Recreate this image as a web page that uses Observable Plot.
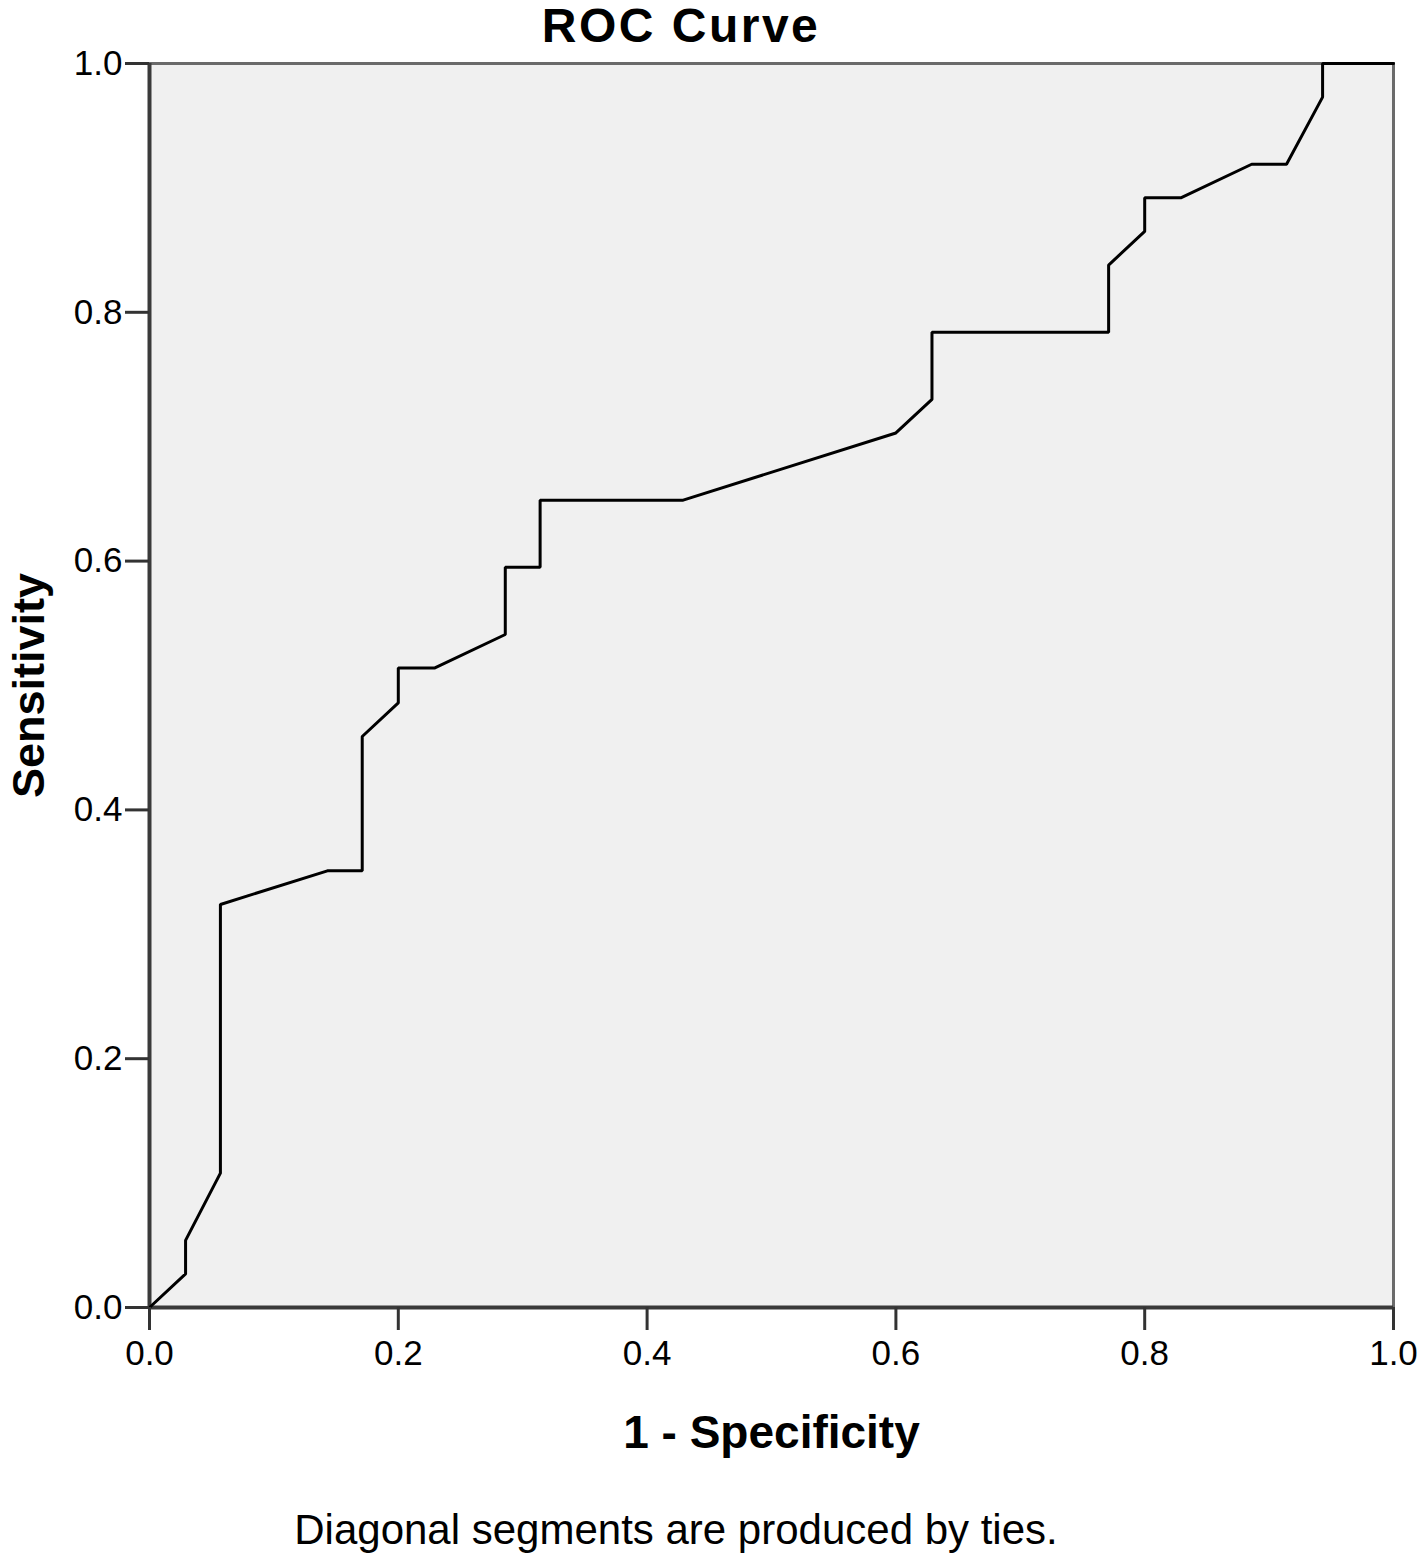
<!DOCTYPE html>
<html><head><meta charset="utf-8">
<script src="https://cdn.jsdelivr.net/npm/d3@7"></script>
<script src="https://cdn.jsdelivr.net/npm/@observablehq/plot@0.6"></script>
<style>
body{margin:0;background:#fff;}
#wrap{position:relative;width:1418px;height:1558px;font-family:"Liberation Sans",Arial,sans-serif;color:#000;}
#title{position:absolute;left:0;width:1362px;top:0px;text-align:center;font-weight:bold;font-size:48px;line-height:1.1;letter-spacing:2.5px;}
#caption{position:absolute;left:0;width:1352px;top:1509px;text-align:center;font-size:42px;line-height:1;}
#chart{position:absolute;left:0;top:0;}
</style></head>
<body>
<div id="wrap">
<div id="chart"></div>
<div id="title">ROC Curve</div>
<div id="caption">Diagonal segments are produced by ties.</div>
</div>
<script>
const titleText = "ROC Curve";
const xLabel = "1 - Specificity";
const yLabel = "Sensitivity";
const ticks = [0, 0.2, 0.4, 0.6, 0.8, 1.0];
// ROC curve points
const fpr = [0, 0.029, 0.029, 0.057, 0.057, 0.143, 0.171, 0.171, 0.200, 0.200, 0.229, 0.286, 0.286, 0.314, 0.314, 0.429, 0.600, 0.629, 0.629, 0.771, 0.771, 0.800, 0.800, 0.829, 0.886, 0.914, 0.943, 0.943, 1.000];
const tpr = [0, 0.027, 0.054, 0.108, 0.324, 0.351, 0.351, 0.459, 0.486, 0.514, 0.514, 0.541, 0.595, 0.595, 0.649, 0.649, 0.703, 0.730, 0.784, 0.784, 0.838, 0.865, 0.892, 0.892, 0.919, 0.919, 0.973, 1.000, 1.000];
const roc = fpr.map((x, i) => ({x, y: tpr[i]}));

const chart = Plot.plot({
  width: 1418,
  height: 1558,
  marginTop: 63,
  marginLeft: 149,
  marginRight: 25,
  marginBottom: 251,
  style: {fontFamily: '"Liberation Sans", Arial, sans-serif', background: "transparent", color: "#000"},
  x: {domain: [0, 1], ticks, tickFormat: d3.format(".1f"), label: null},
  y: {domain: [0, 1], ticks, tickFormat: d3.format(".1f"), label: null},
  marks: [
    Plot.frame({fill: "#f0f0f0", stroke: null}),
    Plot.frame({stroke: "#6a6a6a", strokeWidth: 3}),
    Plot.ruleX([0], {stroke: "#3a3a3a", strokeWidth: 4}),
    Plot.ruleY([0], {stroke: "#3a3a3a", strokeWidth: 4}),
    Plot.line(roc, {x: "x", y: "y", stroke: "#000", strokeWidth: 3, strokeLinejoin: "miter"}),
    Plot.axisX({ticks, tickFormat: d3.format(".1f"), tickSize: 23, tickPadding: 10, fontSize: 35, stroke: "#333", strokeWidth: 3, label: null}),
    Plot.axisY({ticks, tickFormat: d3.format(".1f"), tickSize: 24, tickPadding: 3, fontSize: 35, stroke: "#333", strokeWidth: 3, label: null}),
    Plot.text([xLabel], {frameAnchor: "bottom", dy: 140, fontSize: 46, fontWeight: "bold", fill: "#000"}),
    Plot.text([yLabel], {frameAnchor: "left", textAnchor: "middle", dx: -120, rotate: -90, fontSize: 45, fontWeight: "bold", fill: "#000"})
  ]
});
document.getElementById("chart").appendChild(chart);
</script>
</body></html>
